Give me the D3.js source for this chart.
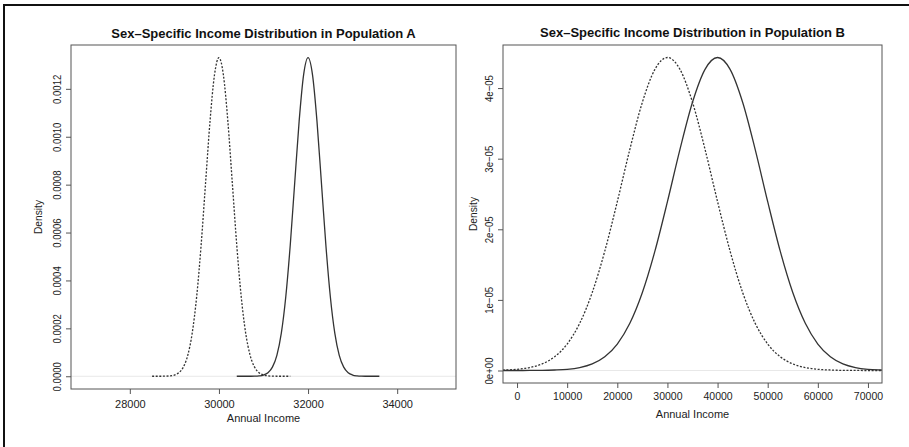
<!DOCTYPE html>
<html>
<head>
<meta charset="utf-8">
<script src="https://cdn.jsdelivr.net/npm/d3@7"></script>
<style>
  body { margin: 0; background: #fff; }
  svg { display: block; font-family: "Liberation Sans", Arial, Helvetica, sans-serif; }
  .title { font-weight: bold; font-size: 13px; fill: #111; }
  .tick text { fill: #222; }
  .axis-label { font-size: 11px; fill: #222; }
</style>
</head>
<body>
<div id="chart"></div>
<script>
const width = 909;
const height = 447;

// Population A: income grid (step 100) and densities, null where curve not drawn
const incomeA = [28500, 28600, 28700, 28800, 28900, 29000, 29100, 29200, 29300, 29400,
  29500, 29600, 29700, 29800, 29900, 30000, 30100, 30200, 30300, 30400,
  30500, 30600, 30700, 30800, 30900, 31000, 31100, 31200, 31300, 31400,
  31500, 31600, 31700, 31800, 31900, 32000, 32100, 32200, 32300, 32400,
  32500, 32600, 32700, 32800, 32900, 33000, 33100, 33200, 33300, 33400,
  33500, 33600];
const femaleA = [0, 0, 0.0000001, 0.0000004, 0.0000016, 0.0000051, 0.0000148, 0.000038, 0.0000874, 0.00018,
  0.000332, 0.000547, 0.000807, 0.001065, 0.001258, 0.00133, 0.001258, 0.001065, 0.000807, 0.000547,
  0.000332, 0.00018, 0.0000874, 0.000038, 0.0000148, 0.0000051, 0.0000016, 0.0000004, 0.0000001, 0,
  0, 0, null, null, null, null, null, null, null, null,
  null, null, null, null, null, null, null, null, null, null,
  null, null];
const maleA = [null, null, null, null, null, null, null, null, null, null,
  null, null, null, null, null, null, null, null, null, 0,
  0, 0, 0.0000001, 0.0000004, 0.0000016, 0.0000051, 0.0000148, 0.000038, 0.0000874, 0.00018,
  0.000332, 0.000547, 0.000807, 0.001065, 0.001258, 0.00133, 0.001258, 0.001065, 0.000807, 0.000547,
  0.000332, 0.00018, 0.0000874, 0.000038, 0.0000148, 0.0000051, 0.0000016, 0.0000004, 0.0000001, 0,
  0, 0];

// Population B: income grid (step 2500) and densities
const incomeB = [-5000, -2500, 0, 2500, 5000, 7500, 10000, 12500, 15000, 17500,
  20000, 22500, 25000, 27500, 30000, 32500, 35000, 37500, 40000, 42500,
  45000, 47500, 50000, 52500, 55000, 57500, 60000, 62500, 65000, 67500,
  70000, 72500, 75000];
const femaleB = [2e-8, 7e-8, 1.7e-7, 4.2e-7, 9.4e-7, 1.95e-6, 3.75e-6, 6.69e-6, 1.105e-5, 1.69e-5,
  2.391e-5, 3.132e-5, 3.799e-5, 4.265e-5, 4.433e-5, 4.265e-5, 3.799e-5, 3.132e-5, 2.391e-5, 1.69e-5,
  1.105e-5, 6.69e-6, 3.75e-6, 1.95e-6, 9.4e-7, 4.2e-7, 1.7e-7, 7e-8, 2e-8, 1e-8,
  0, 0, 0];
const maleB = [0, 0, 0, 1e-8, 2e-8, 7e-8, 1.7e-7, 4.2e-7, 9.4e-7, 1.95e-6,
  3.75e-6, 6.69e-6, 1.105e-5, 1.69e-5, 2.391e-5, 3.132e-5, 3.799e-5, 4.265e-5, 4.433e-5, 4.265e-5,
  3.799e-5, 3.132e-5, 2.391e-5, 1.69e-5, 1.105e-5, 6.69e-6, 3.75e-6, 1.95e-6, 9.4e-7, 4.2e-7,
  1.7e-7, 7e-8, 2e-8];

const xTicksA = [28000, 30000, 32000, 34000];
const yTicksA = [0, 0.0002, 0.0004, 0.0006, 0.0008, 0.0010, 0.0012];
const yLabelsA = ["0.0000", "0.0002", "0.0004", "0.0006", "0.0008", "0.0010", "0.0012"];
const xTicksB = [0, 10000, 20000, 30000, 40000, 50000, 60000, 70000];
const yTicksB = [0, 1e-5, 2e-5, 3e-5, 4e-5];
const yLabelsB = ["0e+00", "1e\u221205", "2e\u221205", "3e\u221205", "4e\u221205"];

const svg = d3.select("#chart").append("svg")
  .attr("width", width)
  .attr("height", height);

// outer frame (top and left edges visible)
svg.append("line").attr("x1", 3).attr("x2", width).attr("y1", 5).attr("y2", 5)
  .attr("stroke", "#111").attr("stroke-width", 2);
svg.append("line").attr("x1", 4).attr("x2", 4).attr("y1", 4).attr("y2", height)
  .attr("stroke", "#111").attr("stroke-width", 2);

const drawPanel = (cfg) => {
  const { left, right, top, bottom } = cfg.box;

  const x = d3.scaleLinear().domain(cfg.xDomain).range([left, right]);
  const y = d3.scaleLinear().domain(cfg.yDomain).range([bottom, top]);

  const g = svg.append("g");

  const clipId = "clip-" + cfg.id;
  svg.append("clipPath").attr("id", clipId)
    .append("rect")
    .attr("x", left).attr("y", top)
    .attr("width", right - left).attr("height", bottom - top);

  // faint zero line
  g.append("line")
    .attr("x1", left).attr("x2", right)
    .attr("y1", y(0)).attr("y2", y(0))
    .attr("stroke", "#e8e8e8").attr("stroke-width", 1);

  const line = d3.line()
    .defined((d) => d[1] != null)
    .x((d) => x(d[0]))
    .y((d) => y(d[1]))
    .curve(d3.curveMonotoneX);

  const curves = g.append("g").attr("clip-path", `url(#${clipId})`);

  curves.append("path")
    .datum(cfg.income.map((v, i) => [v, cfg.female[i]]))
    .attr("d", line)
    .attr("fill", "none")
    .attr("stroke", "#333")
    .attr("stroke-width", 1.3)
    .attr("stroke-dasharray", "2,1.6");

  curves.append("path")
    .datum(cfg.income.map((v, i) => [v, cfg.male[i]]))
    .attr("d", line)
    .attr("fill", "none")
    .attr("stroke", "#333")
    .attr("stroke-width", 1.3);

  // plot box
  g.append("rect")
    .attr("x", left).attr("y", top)
    .attr("width", right - left).attr("height", bottom - top)
    .attr("fill", "none").attr("stroke", "#555").attr("stroke-width", 1);

  const xAxis = g.append("g")
    .attr("transform", `translate(0,${bottom})`)
    .call(d3.axisBottom(x).tickValues(cfg.xTicks).tickFormat(d3.format("d"))
      .tickSize(5).tickPadding(cfg.xPad).tickSizeOuter(0));
  xAxis.select(".domain").remove();
  xAxis.selectAll(".tick line").attr("stroke", "#555");
  xAxis.selectAll(".tick text").style("font-size", cfg.xFont + "px");

  // rotated labels are a bit squashed along the vertical in the source
  const yAxis = g.append("g")
    .attr("transform", `translate(${left},0)`)
    .call(d3.axisLeft(y).tickValues(cfg.yTicks)
      .tickFormat((d, i) => cfg.yLabels[i]).tickSize(5).tickSizeOuter(0));
  yAxis.select(".domain").remove();
  yAxis.selectAll(".tick line").attr("stroke", "#555");
  yAxis.selectAll(".tick text")
    .attr("x", null).attr("dy", null)
    .attr("text-anchor", "middle")
    .attr("transform", "translate(-10,0) rotate(-90) scale(1,1.15)")
    .style("font-size", "9.6px");

  g.append("text")
    .attr("class", "title")
    .attr("x", (left + right) / 2)
    .attr("y", cfg.titleY)
    .attr("text-anchor", "middle")
    .text(cfg.title);

  g.append("text")
    .attr("class", "axis-label")
    .attr("x", (left + right) / 2)
    .attr("y", cfg.xLabelY)
    .attr("text-anchor", "middle")
    .text("Annual Income");

  g.append("text")
    .attr("class", "axis-label")
    .attr("transform", `translate(${left - cfg.yLabelOff},${(top + bottom) / 2}) rotate(-90) scale(1,1.1)`)
    .attr("text-anchor", "middle")
    .style("font-size", "10.2px")
    .text("Density");
};

drawPanel({
  id: "a",
  box: { left: 71, right: 456, top: 45, bottom: 389 },
  xDomain: [26680, 35320],
  yDomain: [-0.0000532, 0.001383],
  income: incomeA,
  female: femaleA,
  male: maleA,
  xTicks: xTicksA,
  yTicks: yTicksA,
  yLabels: yLabelsA,
  xPad: 6,
  xFont: 11,
  title: "Sex\u2013Specific Income Distribution in Population A",
  titleY: 37.5,
  xLabelY: 422,
  yLabelOff: 29
});

drawPanel({
  id: "b",
  box: { left: 503, right: 882, top: 45, bottom: 383 },
  xDomain: [-2800, 72800],
  yDomain: [-1.77e-6, 4.61e-5],
  income: incomeB,
  female: femaleB,
  male: maleB,
  xTicks: xTicksB,
  yTicks: yTicksB,
  yLabels: yLabelsB,
  xPad: 5,
  xFont: 10.5,
  title: "Sex\u2013Specific Income Distribution in Population B",
  titleY: 36.5,
  xLabelY: 417.5,
  yLabelOff: 26.5
});
</script>
</body>
</html>
